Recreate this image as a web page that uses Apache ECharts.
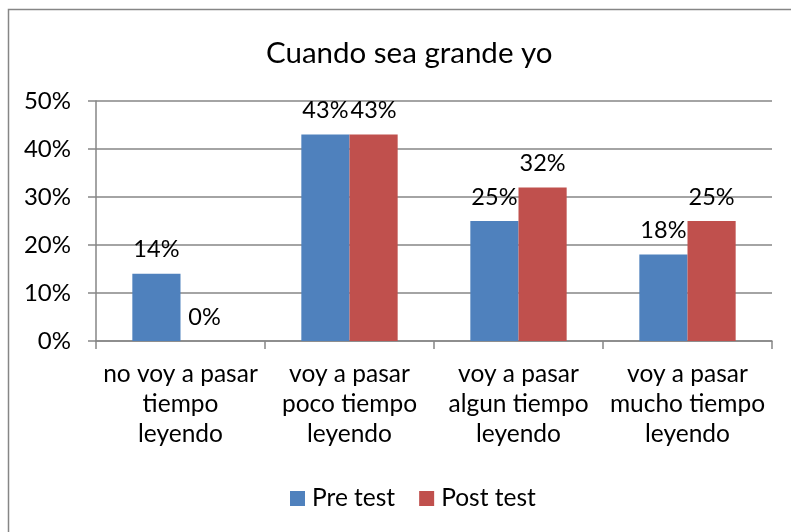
<!DOCTYPE html>
<html>
<head>
<meta charset="utf-8">
<script src="https://cdn.jsdelivr.net/npm/echarts@6/dist/echarts.min.js"></script>
<style>
  html, body { margin: 0; padding: 0; background: #fff; }
  #chart { width: 791px; height: 532px; }
</style>
</head>
<body>
<div id="chart"></div>
<script>
const categories = [
  'no voy a pasar\ntiempo\nleyendo',
  'voy a pasar\npoco tiempo\nleyendo',
  'voy a pasar\nalgun tiempo\nleyendo',
  'voy a pasar\nmucho tiempo\nleyendo'
]
const preTest = [14, 43, 25, 18]
const postTest = [0, 43, 32, 25]
const yTicks = { min: 0, max: 50, interval: 10 }

const font = 'Lato'
const chart = echarts.init(document.getElementById('chart'))

const labelOpt = {
  show: true,
  position: 'top',
  distance: 12,
  color: '#000',
  fontFamily: font,
  fontSize: 23.5,
  formatter: p => p.value + '%'
}

chart.setOption({
  animation: false,
  title: {
    text: 'Cuando sea grande yo',
    left: 261,
    top: 33,
    textStyle: { fontFamily: font, fontSize: 29.5, fontWeight: 'normal', color: '#000' }
  },
  grid: { left: 96, right: 19, top: 101, bottom: 191 },
  legend: {
    bottom: 16,
    left: 285,
    itemWidth: 15,
    itemHeight: 15,
    itemGap: 24,
    icon: 'rect',
    textStyle: { fontFamily: font, fontSize: 24.5, color: '#000', padding: [0, 0, 0, 2] },
    data: ['Pre test', 'Post test']
  },
  xAxis: {
    type: 'category',
    data: categories,
    axisLine: { lineStyle: { color: '#868686', width: 1.5 } },
    axisTick: { show: true, length: 8, lineStyle: { color: '#868686', width: 1.5 } },
    axisLabel: {
      color: '#000',
      fontFamily: font,
      fontSize: 24.5,
      lineHeight: 30,
      margin: 18,
      interval: 0
    }
  },
  yAxis: {
    type: 'value',
    min: yTicks.min,
    max: yTicks.max,
    interval: yTicks.interval,
    axisLine: { show: true, lineStyle: { color: '#868686', width: 1.5 } },
    axisTick: { show: true, length: 8, lineStyle: { color: '#868686', width: 1.5 } },
    splitLine: { lineStyle: { color: '#868686', width: 1.5 } },
    axisLabel: {
      color: '#000',
      fontFamily: font,
      fontSize: 24,
      margin: 25,
      formatter: '{value}%'
    }
  },
  series: [
    {
      name: 'Pre test',
      type: 'bar',
      data: preTest,
      barGap: '0%',
      barCategoryGap: '43%',
      itemStyle: { color: '#4F81BD' },
      label: labelOpt
    },
    {
      name: 'Post test',
      type: 'bar',
      data: postTest,
      itemStyle: { color: '#C0504D' },
      label: labelOpt
    }
  ],
  graphic: [{
    type: 'rect',
    shape: { x: 8.5, y: 9.5, width: 800, height: 560 },
    style: { fill: 'none', stroke: '#868686', lineWidth: 1.5 },
    silent: true,
    z: -1
  }]
})
</script>
</body>
</html>
